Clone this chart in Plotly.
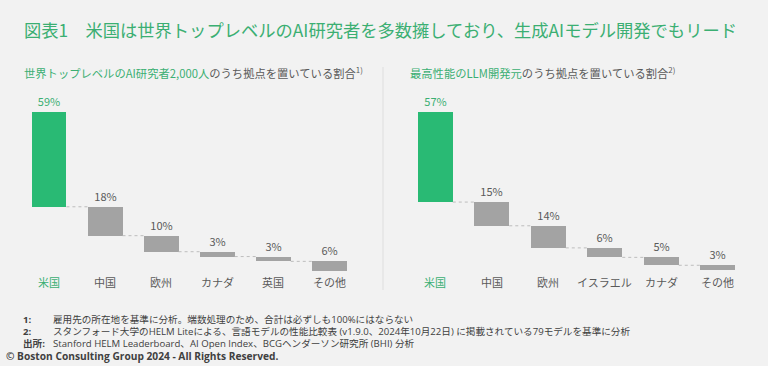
import plotly.graph_objects as go

# ---- data ----
left_categories = ["米国", "中国", "欧州", "カナダ", "英国", "その他"]
left_values = [59, 18, 10, 3, 3, 6]
right_categories = ["米国", "中国", "欧州", "イスラエル", "カナダ", "その他"]
right_values = [57, 15, 14, 6, 5, 3]

title_text = "図表1　米国は世界トップレベルのAI研究者を多数擁しており、生成AIモデル開発でもリード"
left_sub_green = "世界トップレベルのAI研究者2,000人"
left_sub_gray = "のうち拠点を置いている割合"
left_sub_sup = "1)"
right_sub_green = "最高性能のLLM開発元"
right_sub_gray = "のうち拠点を置いている割合"
right_sub_sup = "2)"
footnotes = [
    ("1:", "雇用先の所在地を基準に分析。端数処理のため、合計は必ずしも100%にはならない"),
    ("2:", "スタンフォード大学のHELM Liteによる、言語モデルの性能比較表 (v1.9.0、2024年10月22日) に掲載されている79モデルを基準に分析"),
    ("出所:", "Stanford HELM Leaderboard、AI Open Index、BCGヘンダーソン研究所 (BHI) 分析"),
]
copyright_text = "© Boston Consulting Group 2024 - All Rights Reserved."

# ---- style ----
GREEN = "#29BA74"
GREEN_TXT = "#3BAF72"
GRAY_BAR = "#A3A3A3"
GRAY_TXT = "#5A5A5A"
BG = "#F2F2F2"
FONT = "Noto Sans CJK JP"
FOOT_FONT = "Open Sans, Noto Sans CJK JP"
W, H = 768, 366
BAR_W = 0.62

fig = go.Figure()


def add_waterfall(cats, vals, xa, ya):
    total = sum(vals)
    bases = []
    remaining = total
    for v in vals:
        bases.append(remaining - v)
        remaining -= v
    xs = list(range(len(cats)))
    colors = [GREEN] + [GRAY_BAR] * (len(vals) - 1)
    tcolors = [GREEN_TXT] + [GRAY_TXT] * (len(vals) - 1)
    fig.add_trace(go.Bar(
        x=xs, y=vals, base=bases, width=BAR_W,
        marker=dict(color=colors, line=dict(width=0)),
        text=[f"{v}%" for v in vals], textposition="outside",
        textfont=dict(color=tcolors, size=11, family=FONT),
        cliponaxis=False, xaxis=xa, yaxis=ya, showlegend=False,
        hoverinfo="skip",
    ))
    cx, cy = [], []
    for i in range(len(vals) - 1):
        cx += [xs[i] + BAR_W / 2, xs[i + 1] - BAR_W / 2, None]
        cy += [bases[i], bases[i], None]
    fig.add_trace(go.Scatter(
        x=cx, y=cy, mode="lines",
        line=dict(color="#BDBDBD", width=1, dash="dot"),
        xaxis=xa, yaxis=ya, showlegend=False, hoverinfo="skip",
    ))
    for i, c in enumerate(cats):
        fig.add_annotation(
            x=xs[i], y=1 - 282 / H, xref=xa, yref="paper",
            text=c, showarrow=False, xanchor="center", yanchor="middle",
            font=dict(size=11, color=tcolors[i] if i == 0 else GRAY_TXT, family=FONT),
        )


add_waterfall(left_categories, left_values, "x", "y")
add_waterfall(right_categories, right_values, "x2", "y2")

ydom = [1 - 275 / H, 1 - 100 / H]
fig.update_layout(
    width=W, height=H, margin=dict(l=0, r=0, t=0, b=0),
    paper_bgcolor=BG, plot_bgcolor=BG, bargap=0,
    font=dict(family=FONT, color=GRAY_TXT),
    xaxis=dict(domain=[21 / W, 357.5 / W], range=[-0.5, 5.5], visible=False),
    yaxis=dict(domain=ydom, range=[-2.49, 106.5], visible=False),
    xaxis2=dict(domain=[407 / W, 746 / W], range=[-0.5, 5.5], visible=False),
    yaxis2=dict(domain=ydom, range=[-3.16, 107.6], visible=False, anchor="x2"),
)

# title
fig.add_annotation(
    x=22 / W, y=1 - 30 / H, xref="paper", yref="paper",
    text=title_text, showarrow=False, xanchor="left", yanchor="middle",
    font=dict(size=17.3, color=GREEN_TXT, family=FONT),
)
# subtitles
fig.add_annotation(
    x=22 / W, y=1 - 72 / H, xref="paper", yref="paper",
    text=f"<span style='color:{GREEN_TXT}'>{left_sub_green}</span>{left_sub_gray}<sup>{left_sub_sup}</sup>",
    showarrow=False, xanchor="left", yanchor="middle",
    font=dict(size=11.3, color=GRAY_TXT, family=FONT),
)
fig.add_annotation(
    x=408 / W, y=1 - 72 / H, xref="paper", yref="paper",
    text=f"<span style='color:{GREEN_TXT}'>{right_sub_green}</span>{right_sub_gray}<sup>{right_sub_sup}</sup>",
    showarrow=False, xanchor="left", yanchor="middle",
    font=dict(size=11.3, color=GRAY_TXT, family=FONT),
)
# divider
fig.add_shape(type="line", xref="paper", yref="paper",
              x0=383 / W, x1=383 / W, y0=1 - 67 / H, y1=1 - 290 / H,
              line=dict(color="#DEDEDE", width=1))

# footnotes
foot_y = [319, 331, 343.5]
for k, (lab, txt) in enumerate(footnotes):
    yy = 1 - foot_y[k] / H
    fig.add_annotation(x=21 / W, y=yy, xref="paper", yref="paper", text=f"<b>{lab}</b>",
                       showarrow=False, xanchor="left", yanchor="middle",
                       font=dict(size=9.6, color="#404040", family=FOOT_FONT))
    fig.add_annotation(x=51 / W, y=yy, xref="paper", yref="paper", text=txt,
                       showarrow=False, xanchor="left", yanchor="middle",
                       font=dict(size=9.6, color="#404040", family=FOOT_FONT))
fig.add_annotation(x=4 / W, y=1 - 356 / H, xref="paper", yref="paper",
                   text=f"<b>{copyright_text}</b>", showarrow=False,
                   xanchor="left", yanchor="middle",
                   font=dict(size=10.2, color="#404040", family=FOOT_FONT))

fig.write_html(
    "out.html",
    config={"displayModeBar": False},
    post_script="document.body.style.margin='0';document.body.style.background='#F2F2F2';",
)
